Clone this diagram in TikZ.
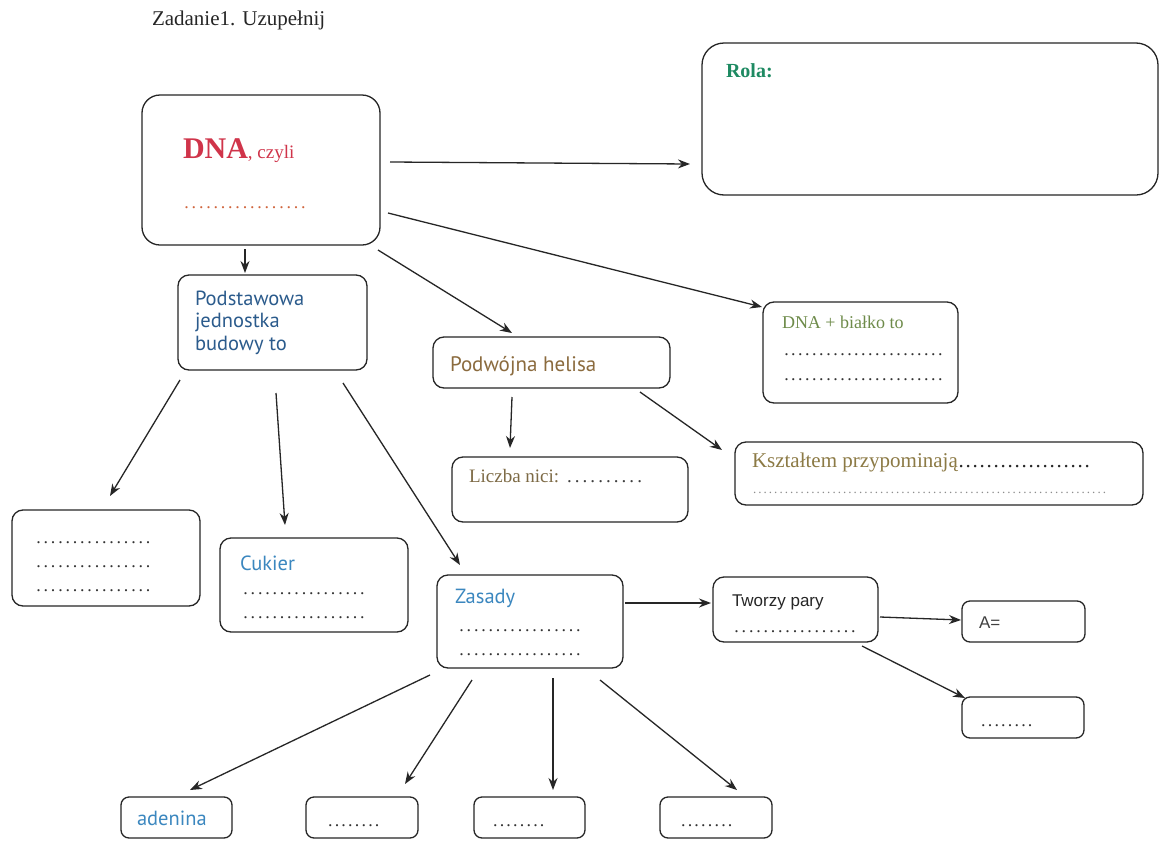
\documentclass[tikz,border=0pt]{standalone}
\usepackage{fontspec}
\setmainfont{Liberation Serif}
\newfontfamily\humsans{PT Sans}
\newfontfamily\arialsans{Liberation Sans}
\usetikzlibrary{arrows.meta,fit}

\definecolor{dnared}{HTML}{D0344A}
\definecolor{dnaorange}{HTML}{D0643C}
\definecolor{rolagreen}{HTML}{1E8A62}
\definecolor{podblue}{HTML}{2B5B8C}
\definecolor{lightblue}{HTML}{3B87BF}
\definecolor{helbrown}{HTML}{8B6B3E}
\definecolor{biaolive}{HTML}{6E8B4A}
\definecolor{kszolive}{HTML}{8C7A45}
\definecolor{licbrown}{HTML}{7D6A45}

% a row of evenly spaced dots: total width, dot pitch
\newcommand{\dotline}[2]{\hbox to #1{\leaders\hbox to #2{\hss.\hss}\hfill}}
% a block of dot rows set one under another
\newcommand{\dotrows}[4]{\vtop{\baselineskip=#4\relax
  \foreach \k in {1,...,#3}{\hbox{\dotline{#1}{#2}}}}}

\begin{document}
\begin{tikzpicture}[x=1pt,y=-1pt,
  box/.style={draw=black!85, line width=1.3pt, rounded corners=11pt,
    inner sep=0pt, outer sep=0pt},
  txt/.style={anchor=base west, inner sep=0pt, outer sep=0pt},
  arr/.style={draw=black!85, line width=1.3pt,
    -{Stealth[length=12pt,width=9pt]}},
  serif18/.style={font=\fontsize{18}{22}\selectfont},
  hum/.style={font=\humsans\fontsize{20.5}{24}\selectfont},
  dots/.style={txt, font=\fontsize{18}{22}\selectfont, text=black!80},
]
\useasboundingbox (0,0) rectangle (1160,841);
\fill[white] (0,0) rectangle (1160,841);

% ---- boxes ----
\node[box, rounded corners=18pt, fit={(142,95) (380,245)}] (dna) {};
\node[box, rounded corners=22pt, fit={(702,43) (1158,195)}] (rola) {};
\node[box, fit={(178,275) (367,370)}] (pod) {};
\node[box, fit={(433,337) (670,388)}] (hel) {};
\node[box, fit={(763,302) (958,403)}] (bia) {};
\node[box, fit={(735,442) (1143,505)}] (ksz) {};
\node[box, fit={(452,457) (688,522)}] (lic) {};
\node[box, fit={(12,510) (200,606)}] (lft) {};
\node[box, fit={(220,538) (408,632)}] (cuk) {};
\node[box, fit={(437,575) (623,668)}] (zas) {};
\node[box, fit={(713,577) (878,642)}] (twp) {};
\node[box, rounded corners=8pt, fit={(962,601) (1085,642)}] (aeq) {};
\node[box, rounded corners=8pt, fit={(962,697) (1084,738)}] (dbx) {};
\node[box, rounded corners=8pt, fit={(121,797) (232,838)}] (ade) {};
\node[box, rounded corners=8pt, fit={(306,797) (418,838)}] (b2) {};
\node[box, rounded corners=8pt, fit={(474,797) (585,838)}] (b3) {};
\node[box, rounded corners=8pt, fit={(660,797) (772,838)}] (b4) {};

% ---- texts ----
\node[txt, font=\fontsize{21}{25}\selectfont, text=black!85] (title) at (152,25) {Zadanie1. Uzupełnij};

\node[txt, text=dnared] (dnat) at (183,158)
  {{\fontsize{30}{34}\selectfont\bfseries DNA}{\fontsize{19}{22}\selectfont, czyli}};
\node[txt, font=\fontsize{18}{22}\selectfont, text=dnaorange] (dnad) at (183,208) {\dotline{127pt}{7.3pt}};

\node[txt, font=\fontsize{20}{24}\selectfont\bfseries, text=rolagreen] (rolat) at (726,77) {Rola:};

\node[txt, hum, text=podblue] (podt) at (195,305)
  {\vtop{\baselineskip=22.5pt\hbox{Podstawowa}\hbox{jednostka}\hbox{budowy to}}};

\node[txt, font=\humsans\fontsize{21}{25}\selectfont, text=helbrown] (helt) at (450,371) {Podwójna helisa};

\node[txt, serif18, text=biaolive] (biat) at (782,328) {DNA + białko to};
\node[dots] (biad) at (783,355) {\dotrows{165pt}{7pt}{2}{25pt}};

\node[txt, font=\fontsize{21}{25}\selectfont, text=kszolive] (kszt) at (752,467)
  {Kształtem przypominają{\color{black!85}\dotline{133pt}{7pt}}};
\node[txt, font=\fontsize{13}{16}\selectfont, text=black!45] (kszd) at (752,493) {\dotline{358pt}{5.3pt}};

\node[txt, font=\fontsize{19}{23}\selectfont, text=licbrown] (lict) at (469,482) {Liczba nici: {\color{black!75}\dotline{78pt}{7.8pt}}};

\node[dots] (lftd) at (35,543) {\dotrows{123pt}{7.3pt}{3}{24pt}};

\node[txt, hum, text=lightblue] (cukt) at (240,570) {Cukier};
\node[dots] (cukd) at (242,594) {\dotrows{125pt}{7.3pt}{2}{24pt}};

\node[txt, hum, text=lightblue] (zast) at (455,603) {Zasady};
\node[dots] (zasd) at (458,631) {\dotrows{125pt}{7.3pt}{2}{24pt}};

\node[txt, font=\arialsans\fontsize{17}{21}\selectfont, text=black!85] (twpt) at (732,606) {Tworzy pary};
\node[dots] (twpd) at (733,632) {\dotline{125pt}{7.3pt}};

\node[txt, font=\arialsans\fontsize{17}{20}\selectfont, text=black!75] (aeqt) at (979,628) {A=};
\node[dots] (dbxd) at (980,726) {\dotline{60pt}{6.7pt}};

\node[txt, hum, text=lightblue] (adet) at (137,825) {adenina};
\node[dots] (b2d) at (327,826) {\dotline{60pt}{6.7pt}};
\node[dots] (b3d) at (492,826) {\dotline{60pt}{6.7pt}};
\node[dots] (b4d) at (680,826) {\dotline{60pt}{6.7pt}};

% ---- connectors ----
\draw[arr] ([shift={(248,67)}]dna.north west) -- ([shift={(-12,121)}]rola.north west);
\draw[arr] ([shift={(103,154)}]dna.north west) -- ([shift={(67,-2)}]pod.north west);
\draw[arr] ([shift={(236,155)}]dna.north west) -- ([shift={(79,-4)}]hel.north west);
\draw[arr] ([shift={(246,118)}]dna.north west) -- ([shift={(-1,5)}]bia.north west);

\draw[arr] ([shift={(2,105)}]pod.north west) -- ([shift={(98,-14)}]lft.north west);
\draw[arr] ([shift={(98,118)}]pod.north west) -- ([shift={(65,-13)}]cuk.north west);
\draw[arr] ([shift={(165,108)}]pod.north west) -- ([shift={(23,-10)}]zas.north west);

\draw[arr] ([shift={(79,60)}]hel.north west) -- ([shift={(58,-9)}]lic.north west);
\draw[arr] ([shift={(207,55)}]hel.north west) -- ([shift={(-13,8)}]ksz.north west);

\draw[arr] ([shift={(188,28)}]zas.north west) -- ([shift={(-2,26)}]twp.north west);
\draw[arr] ([shift={(167,40)}]twp.north west) -- ([shift={(-1,19)}]aeq.north west);
\draw[arr] ([shift={(149,69)}]twp.north west) -- ([shift={(3,1)}]dbx.north west);

\draw[arr] ([shift={(-7,100)}]zas.north west) -- ([shift={(69,-7)}]ade.north west);
\draw[arr] ([shift={(35,105)}]zas.north west) -- ([shift={(99,-13)}]b2.north west);
\draw[arr] ([shift={(116,103)}]zas.north west) -- ([shift={(79,-7)}]b3.north west);
\draw[arr] ([shift={(163,105)}]zas.north west) -- ([shift={(77,-7)}]b4.north west);
\end{tikzpicture}
\end{document}
